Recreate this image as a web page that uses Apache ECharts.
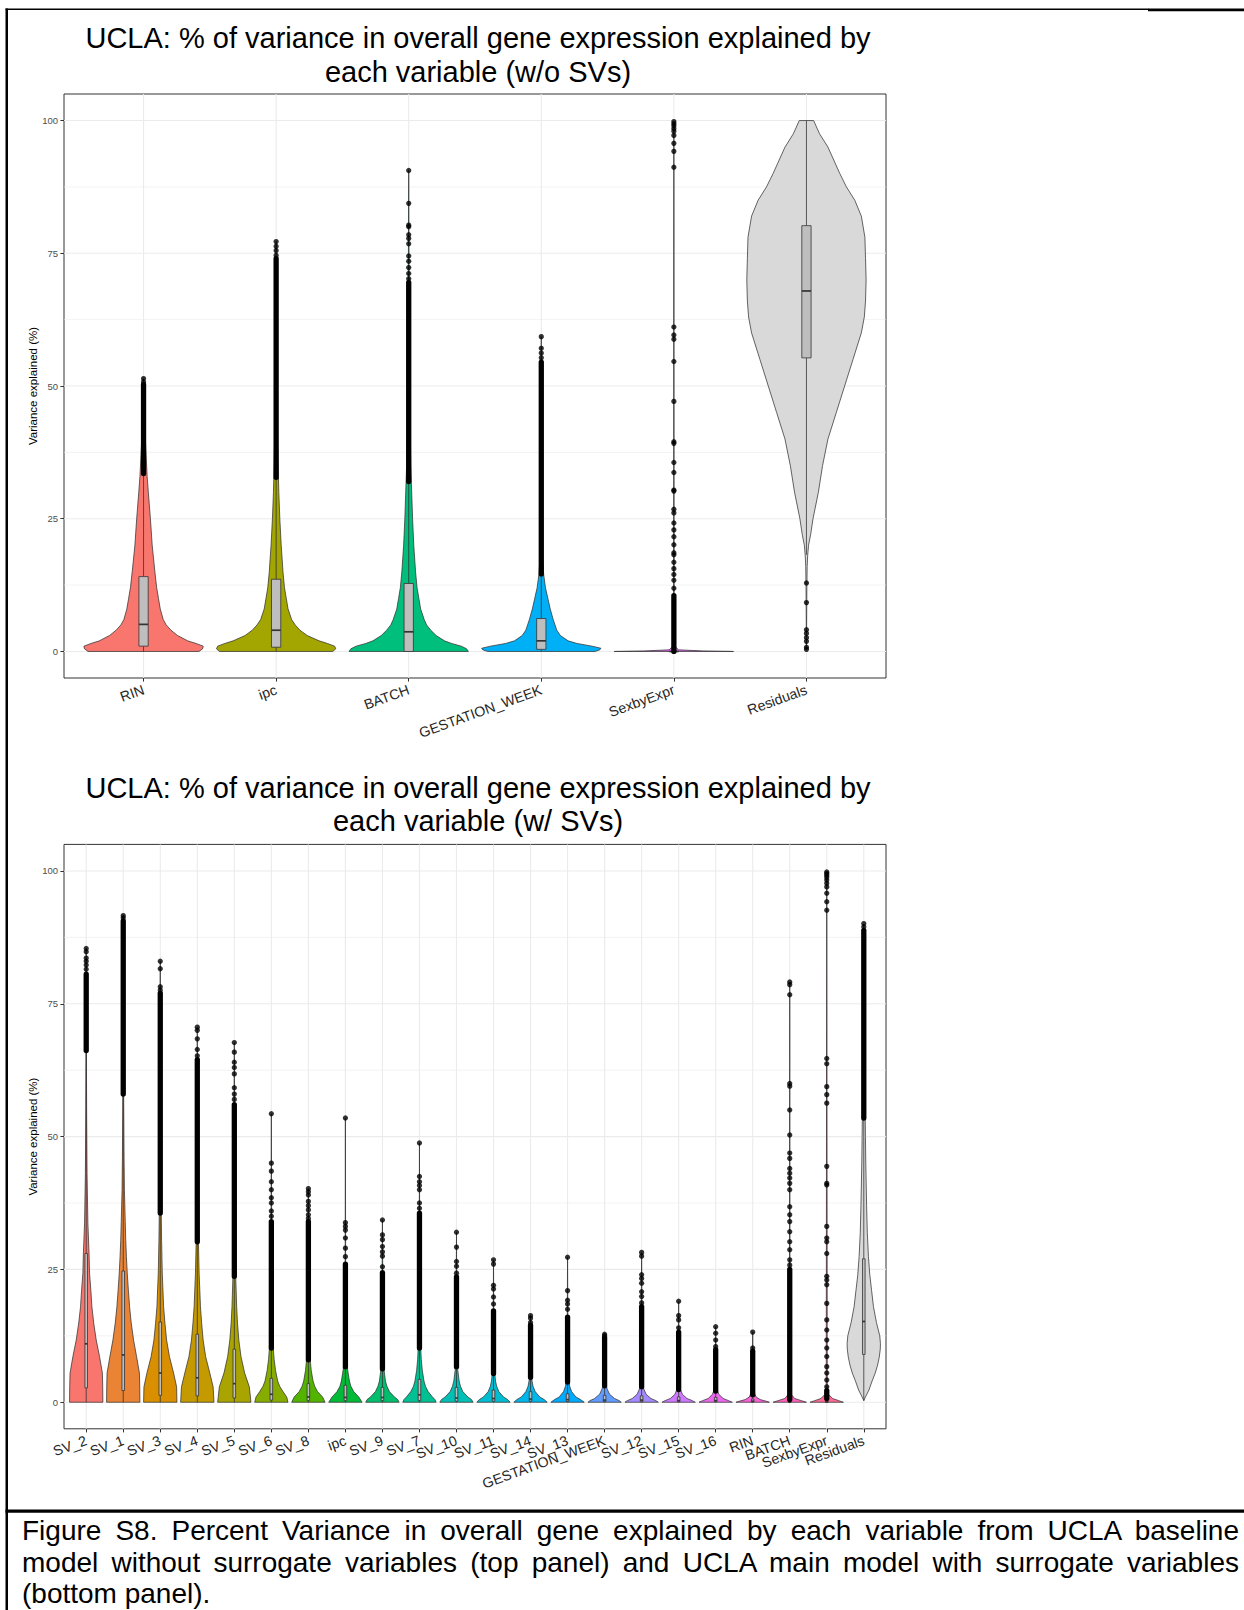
<!DOCTYPE html>
<html><head><meta charset="utf-8">
<script src="https://cdn.jsdelivr.net/npm/echarts@6/dist/echarts.min.js"></script>
<style>
html,body{margin:0;padding:0;background:#fff;}
#chart{position:absolute;left:0;top:0;width:1244px;height:1610px;}
#caption{position:absolute;left:22px;top:1515px;width:1217px;font-family:'Liberation Sans',Arial,sans-serif;font-size:28px;line-height:31.5px;color:#000;z-index:5;}
#caption .j{text-align:justify;text-align-last:justify;}
</style></head>
<body>
<div id="chart"></div>
<div id="caption">
<div class="j">Figure S8. Percent Variance in overall gene explained by each variable from UCLA baseline</div>
<div class="j">model without surrogate variables (top panel) and UCLA main model with surrogate variables</div>
<div>(bottom panel).</div>
</div>
<script>
// ---------------- DATA ----------------
const yMajorTicks = [0, 25, 50, 75, 100];
const yMinorTicks = [12.5, 37.5, 62.5, 87.5];

// top panel (w/o SVs)
const topCats = ['RIN', 'ipc', 'BATCH', 'GESTATION_WEEK', 'SexbyExpr', 'Residuals'];
// violin profiles: [value, relative half width]
const topProfiles = [
  [[0,0.93],[0.5,0.99],[1,1],[1.5,0.88],[2,0.74],[3,0.57],[4,0.46],[5,0.38],[6,0.33],[8,0.28],[10,0.25],[12,0.22],[15,0.19],[20,0.145],[25,0.115],[30,0.08],[33,0.06],[40,0.03],[45,0.015],[51.4,0]],
  [[0,0.95],[0.5,1],[1,0.98],[1.5,0.86],[2,0.72],[3,0.52],[4,0.4],[5,0.32],[6,0.26],[8,0.2],[10,0.17],[12,0.14],[15,0.115],[20,0.085],[25,0.062],[30,0.045],[33,0.038],[40,0.025],[50,0.015],[60,0.008],[77.2,0]],
  [[0,1],[0.5,0.97],[1,0.88],[1.5,0.72],[2,0.6],[3,0.46],[4,0.37],[5,0.3],[6,0.26],[8,0.2],[10,0.17],[12,0.14],[15,0.115],[20,0.085],[25,0.065],[30,0.05],[35,0.035],[45,0.02],[60,0.01],[75,0.005],[90.6,0]],
  [[0,0.9],[0.3,0.98],[0.6,1],[1,0.85],[1.5,0.6],[2,0.45],[3,0.32],[4,0.26],[5,0.23],[6,0.2],[8,0.15],[10,0.11],[12,0.07],[14.5,0.04],[18,0.02],[25,0.01],[40,0.005],[59.3,0]],
  [[0,1],[0.1,0.5],[0.3,0.08],[1,0.015],[5,0.006],[30,0.003],[99.8,0]],
  [[0.4,0],[5,0.003],[12,0.007],[16,0.012],[18,0.02],[20,0.035],[22,0.07],[25,0.11],[30,0.2],[35,0.27],[40,0.36],[45,0.5],[50,0.64],[55,0.78],[60,0.92],[63,0.97],[66,0.99],[70,1],[74,0.99],[78,0.98],[82,0.92],[85,0.81],[87.5,0.67],[90,0.56],[95,0.36],[97.5,0.22],[100,0.12]]
];
// boxes: [q1, median, q3, whiskerLow, whiskerHigh]
const topBoxes = [
  [1.0, 5.1, 14.1, 0, 33.5],
  [0.8, 4.0, 13.6, 0, 32.8],
  [0.0, 3.7, 12.8, 0, 31.8],
  [0.4, 2.0, 6.2, 0, 14.5],
  [0.0, 0.0, 0.0, 0, 0.0],
  [55.3, 67.9, 80.2, 18.2, 100]
];
// densely packed outlier stretches [from, to]
const topDense = [[33.5, 50.3], [32.8, 74.0], [32.0, 69.5], [14.6, 54.5], [0, 10.5], null];
// individual outliers
const topOutliers = [
  [50.8, 51.4],
  [74.6, 75.5, 76.3, 77.2],
  [70.2, 71.2, 72.3, 73.5, 74.5, 76.8, 77.8, 78.5, 80.0, 80.3, 84.4, 90.6],
  [55.3, 56.2, 57.1, 59.3],
  [11.9, 13.4, 14.5, 15.6, 16.8, 18.2, 18.6, 20.1, 21.6, 22.9, 24.2, 26.1, 26.8, 30.2, 30.4, 33.7, 35.6, 39.2, 39.5, 47.1, 54.6, 58.8, 59.6, 61.1, 91.2, 94.2, 95.7, 97.2, 98.0, 98.5, 99.0, 99.4, 99.8],
  [0.4, 0.8, 1.9, 2.6, 3.4, 4.1, 9.2, 12.9]
];

// bottom panel (w/ SVs)
const botCats = ['SV_2','SV_1','SV_3','SV_4','SV_5','SV_6','SV_8','ipc','SV_9','SV_7','SV_10','SV_11','SV_14','SV_13','GESTATION_WEEK','SV_12','SV_15','SV_16','RIN','BATCH','SexbyExpr','Residuals'];
const botProfiles = [
  [[0,1],[3,0.99],[5.5,0.97],[8.6,0.8],[11.7,0.6],[14.9,0.45],[18,0.34],[21,0.28],[24.3,0.2],[28,0.17],[33.7,0.1],[43,0.05],[55,0.025],[66,0.012],[75,0.006],[85.5,0]],
  [[0,1],[3,0.99],[5.5,0.97],[8.6,0.8],[11.7,0.62],[14.9,0.48],[18,0.38],[21,0.31],[24.3,0.24],[27.4,0.19],[30.5,0.15],[34,0.12],[40,0.07],[46,0.05],[58,0.025],[75,0.01],[91.6,0]],
  [[0,1],[2.9,0.98],[5.5,0.8],[8.6,0.55],[11.7,0.38],[14.9,0.28],[18,0.2],[24.3,0.12],[30.5,0.08],[35.6,0.06],[50,0.03],[83,0]],
  [[0,1],[2.9,0.95],[5.5,0.75],[8.6,0.5],[11.7,0.35],[14.9,0.26],[18,0.19],[24.3,0.11],[30,0.07],[40,0.04],[70.6,0]],
  [[0,1],[2.9,0.9],[5.5,0.62],[8.6,0.4],[11.7,0.27],[14.9,0.19],[18,0.14],[24,0.08],[30,0.05],[67.7,0]],
  [[0,1],[1,0.92],[2,0.7],[3,0.5],[4,0.38],[6,0.25],[8,0.17],[10,0.12],[15,0.06],[25,0.025],[54.3,0]],
  [[0,1],[1,0.85],[2,0.55],[3,0.38],[4,0.28],[6,0.17],[8,0.11],[12,0.05],[20,0.02],[40.2,0]],
  [[0,1],[1,0.8],[2,0.5],[3,0.33],[4,0.24],[6,0.14],[8,0.08],[12,0.035],[20,0.015],[53.5,0]],
  [[0,1],[0.5,0.92],[1,0.72],[2,0.42],[3,0.27],[4,0.18],[6,0.1],[10,0.04],[34.3,0]],
  [[0,1],[0.5,0.93],[1,0.78],[2,0.52],[3,0.36],[4,0.27],[6,0.17],[8,0.11],[12,0.05],[20,0.02],[48.8,0]],
  [[0,1],[0.5,0.9],[1,0.68],[2,0.38],[3,0.24],[4,0.16],[6,0.08],[10,0.03],[32,0]],
  [[0,1],[0.5,0.85],[1,0.6],[2,0.32],[3,0.19],[4,0.12],[6,0.06],[10,0.02],[26.8,0]],
  [[0,1],[0.5,0.82],[1,0.55],[2,0.28],[3,0.15],[4,0.09],[6,0.04],[16.3,0]],
  [[0,1],[0.5,0.78],[1,0.5],[2,0.24],[3,0.13],[4,0.07],[6,0.03],[27.3,0]],
  [[0,1],[0.3,0.88],[0.7,0.6],[1.5,0.3],[2.5,0.15],[4,0.06],[12.8,0]],
  [[0,1],[0.3,0.86],[0.7,0.56],[1.5,0.27],[2.5,0.13],[4,0.05],[28.2,0]],
  [[0,1],[0.3,0.82],[0.7,0.5],[1.5,0.22],[2.5,0.1],[4,0.04],[19,0]],
  [[0,1],[0.3,0.78],[0.7,0.45],[1.5,0.19],[2.5,0.08],[4,0.03],[14.2,0]],
  [[0,1],[0.2,0.8],[0.5,0.45],[1,0.2],[2,0.07],[4,0.02],[13.2,0]],
  [[0,1],[0.3,0.7],[0.7,0.3],[1.5,0.08],[3,0.02],[79.1,0]],
  [[0,1],[0.3,0.72],[0.7,0.35],[1.5,0.1],[3,0.03],[99.8,0]],
  [[0.3,0],[1,0.1],[2.3,0.31],[4,0.5],[5.5,0.69],[7,0.83],[8.5,0.93],[10,0.99],[11,1],[12.5,0.96],[15,0.76],[18,0.58],[21,0.47],[24,0.36],[27.4,0.28],[32,0.21],[37,0.17],[45,0.12],[50,0.1],[55,0.08],[60,0.065],[70,0.045],[80,0.025],[88,0.01],[90,0]]
];
const botBoxes = [
  [2.7, 11.0, 28.0, 0, 66.0],
  [2.2, 8.9, 24.7, 0, 58.0],
  [1.3, 5.5, 15.1, 0, 35.5],
  [1.2, 4.6, 12.8, 0, 30.2],
  [0.8, 3.5, 10.0, 0, 23.7],
  [0.4, 1.5, 4.5, 0, 10.2],
  [0.3, 1.0, 3.5, 0, 8.0],
  [0.3, 0.9, 3.2, 0, 6.7],
  [0.3, 0.9, 2.8, 0, 6.3],
  [0.3, 1.4, 4.3, 0, 10.2],
  [0.2, 0.8, 2.8, 0, 6.7],
  [0.2, 0.7, 2.3, 0, 5.4],
  [0.2, 0.6, 2.0, 0, 4.7],
  [0.15, 0.5, 1.6, 0, 3.8],
  [0.1, 0.4, 1.3, 0, 3.1],
  [0.1, 0.4, 1.2, 0, 2.9],
  [0.1, 0.3, 1.0, 0, 2.4],
  [0.1, 0.3, 0.9, 0, 2.1],
  [0.05, 0.2, 0.6, 0, 1.4],
  [0.0, 0.05, 0.2, 0, 0.5],
  [0.0, 0.05, 0.3, 0, 0.7],
  [9.0, 15.2, 27.0, 0.3, 53.5]
];
const botDense = [
  [66.2, 80.6], [58.0, 90.6], [35.6, 77.0], [30.2, 64.5], [23.7, 56.0], [10.2, 34.0], [8.0, 34.0], [6.7, 26.0],
  [6.3, 24.4], [10.2, 35.6], [6.7, 23.6], [5.4, 17.2], [4.7, 14.5], [3.8, 16.0], [3.1, 12.2], [2.9, 18.0],
  [2.4, 13.2], [2.1, 9.9], [1.4, 9.6], [0.5, 25.0], [0.7, 2.2], [53.5, 88.8]
];
const botOutliers = [
  [81.5, 82.3, 83.0, 83.6, 84.8, 85.4],
  [91.2, 91.6],
  [77.6, 78.2, 81.6, 83.0],
  [65.2, 66.4, 68.4, 70.0, 70.6],
  [57.0, 58.0, 59.2, 61.8, 63.0, 64.0, 65.9, 67.7],
  [35.0, 36.0, 37.5, 38.5, 40.0, 41.5, 43.5, 45.0, 54.3],
  [34.6, 35.3, 36.2, 37.0, 37.8, 39.0, 39.6, 40.2],
  [27.4, 29.0, 30.9, 32.4, 33.1, 33.8, 53.5],
  [25.5, 27.5, 28.3, 29.3, 30.6, 31.5, 34.3],
  [36.5, 37.5, 40.0, 40.8, 41.5, 42.5, 48.8],
  [24.3, 25.6, 26.5, 29.2, 32.0],
  [18.5, 19.8, 21.3, 22.0, 26.0, 26.8],
  [15.0, 15.8, 16.3],
  [17.5, 18.5, 19.2, 21.0, 27.3],
  [12.5, 12.8],
  [18.7, 19.9, 20.8, 22.4, 23.3, 24.0, 27.5, 28.2],
  [14.0, 15.5, 16.3, 19.0],
  [10.5, 11.7, 13.0, 14.2],
  [10.2, 13.2],
  [25.8, 26.8, 28.7, 30.2, 32.1, 34.0, 35.3, 36.8, 40.0, 41.2, 42.2, 43.1, 44.0, 45.9, 46.9, 50.3, 55.0, 59.5, 60.0, 76.7, 78.6, 79.1],
  [2.9, 4.2, 5.5, 6.7, 8.6, 10.2, 11.7, 13.6, 15.5, 18.6, 22.1, 23.0, 23.7, 28.0, 30.2, 30.9, 33.1, 40.9, 41.2, 44.4, 56.3, 57.9, 59.4, 63.7, 64.7, 92.6, 94.2, 95.8, 97.0, 97.7, 98.3, 98.8, 99.2, 99.5, 99.8],
  [89.5, 90.1]
];

// ---------------- STYLE HELPERS ----------------
function hclHex(h, c, l) {
  const hr = h * Math.PI / 180;
  const U = c * Math.cos(hr), V = c * Math.sin(hr);
  const Xn = 95.047, Yn = 100.0, Zn = 108.883;
  const den = Xn + 15 * Yn + 3 * Zn;
  const un = 4 * Xn / den, vn = 9 * Yn / den;
  const Y = l > 8 ? Yn * Math.pow((l + 16) / 116, 3) : Yn * l / 903.3;
  const u = U / (13 * l) + un, v = V / (13 * l) + vn;
  const X = 9 * Y * u / (4 * v);
  const Z = Y * (12 - 3 * u - 20 * v) / (4 * v);
  const lin = [
    (3.240479 * X - 1.537150 * Y - 0.498535 * Z) / 100,
    (-0.969256 * X + 1.875992 * Y + 0.041556 * Z) / 100,
    (0.055648 * X - 0.204043 * Y + 1.057311 * Z) / 100
  ];
  return '#' + lin.map(t => {
    let g = t > 0.00304 ? 1.055 * Math.pow(t, 1 / 2.4) - 0.055 : 12.92 * t;
    g = Math.max(0, Math.min(1, g));
    return Math.round(g * 255).toString(16).padStart(2, '0');
  }).join('');
}
function hues(n) { const a = []; for (let k = 0; k < n; k++) a.push(hclHex(15 + 360 * k / n, 100, 65)); return a; }
const topColors = hues(topCats.length - 1).concat(['#D9D9D9']);
const botColors = hues(botCats.length - 1).concat(['#D9D9D9']);

const FONT = '"Liberation Sans", Arial, Helvetica, sans-serif';
const HALF = 0.45, BOXW = 0.07, PT = 5.3;
const PLOT_L = 64, PLOT_W = 822;
const TOP_T = 94, TOP_H = 584, BOT_T = 844.4, BOT_H = 584.4;

function violinRender(profiles, boxes, colors) {
  return function (params, api) {
    const i = params.dataIndex;
    const prof = profiles[i];
    const pts = [];
    for (let k = 0; k < prof.length; k++) pts.push(api.coord([i + prof[k][1] * HALF, prof[k][0]]));
    for (let k = prof.length - 1; k >= 0; k--) pts.push(api.coord([i - prof[k][1] * HALF, prof[k][0]]));
    const b = boxes[i];
    const tl = api.coord([i - BOXW / 2, b[2]]), br = api.coord([i + BOXW / 2, b[0]]);
    const ml = api.coord([i - BOXW / 2, b[1]]), mr = api.coord([i + BOXW / 2, b[1]]);
    const wq3 = api.coord([i, b[2]]), whi = api.coord([i, b[4]]);
    const wq1 = api.coord([i, b[0]]), wlo = api.coord([i, b[3]]);
    const grey = '#333333';
    return {
      type: 'group',
      children: [
        { type: 'polygon', shape: { points: pts }, style: { fill: colors[i], stroke: grey, lineWidth: 0.75 } },
        { type: 'line', shape: { x1: wq3[0], y1: wq3[1], x2: whi[0], y2: whi[1] }, style: { stroke: grey, lineWidth: 0.8 } },
        { type: 'line', shape: { x1: wq1[0], y1: wq1[1], x2: wlo[0], y2: wlo[1] }, style: { stroke: grey, lineWidth: 0.8 } },
        { type: 'rect', shape: { x: tl[0], y: tl[1], width: br[0] - tl[0], height: Math.max(br[1] - tl[1], 0.01) }, style: { fill: '#BEBEBE', stroke: grey, lineWidth: 0.8 } },
        { type: 'line', shape: { x1: ml[0], y1: ml[1], x2: mr[0], y2: mr[1] }, style: { stroke: grey, lineWidth: 1.7 } }
      ]
    };
  };
}
function denseRender(params, api) {
  const a = api.coord([api.value(0), api.value(1)]);
  const b = api.coord([api.value(0), api.value(2)]);
  return { type: 'line', shape: { x1: a[0], y1: a[1], x2: b[0], y2: b[1] }, style: { stroke: '#000', lineWidth: PT, lineCap: 'round' } };
}
function gridRender(n) {
  return function (params, api) {
    const kind = api.value(0), v = api.value(1);
    let a, b;
    if (kind === 2) { a = api.coord([v, -5]); b = api.coord([v, 105]); }
    else { a = api.coord([-0.6, v]); b = api.coord([n - 0.4, v]); }
    return { type: 'line', shape: { x1: a[0], y1: a[1], x2: b[0], y2: b[1] }, style: { stroke: '#EBEBEB', lineWidth: kind === 1 ? 0.6 : 1.1 } };
  };
}

function panelSeries(gi, cats, profiles, boxes, colors, dense, outliers) {
  const n = cats.length;
  const gridData = yMajorTicks.map(v => [0, v]).concat(yMinorTicks.map(v => [1, v])).concat(cats.map((c, i) => [2, i]));
  const denseData = [];
  dense.forEach((d, i) => { if (d) denseData.push([i, d[0], d[1]]); });
  const ptData = [];
  outliers.forEach((arr, i) => arr.forEach(v => ptData.push([i, v])));
  return [
    { type: 'custom', xAxisIndex: gi, yAxisIndex: gi, z: 1, silent: true, renderItem: gridRender(n), data: gridData, encode: { x: -1, y: -1 } },
    { type: 'custom', xAxisIndex: gi, yAxisIndex: gi, z: 2, silent: true, renderItem: violinRender(profiles, boxes, colors), data: cats.map((c, i) => [i, 0]), encode: { x: 0, y: 1 } },
    { type: 'custom', xAxisIndex: gi, yAxisIndex: gi, z: 3, silent: true, renderItem: denseRender, data: denseData, encode: { x: 0, y: [1, 2] } },
    { type: 'scatter', xAxisIndex: gi, yAxisIndex: gi, z: 4, silent: true, symbol: 'circle', symbolSize: PT, itemStyle: { color: '#000' }, data: ptData }
  ];
}

// main (data) x axis: value scale -0.6 .. n-0.4 (ggplot discrete expansion)
function xValueAxis(gi, cats) {
  return {
    type: 'value', gridIndex: gi, min: -0.6, max: cats.length - 0.4,
    axisLine: { show: false, onZero: false }, axisTick: { show: false }, axisLabel: { show: false }, splitLine: { show: false }
  };
}
// label x axis: category axis on a grid trimmed by 0.1 unit at each side so that categories line up
function xCatAxis(gi, cats, fs) {
  return {
    type: 'category', gridIndex: gi, data: cats, boundaryGap: true,
    axisLine: { show: false, onZero: false },
    axisTick: { show: true, alignWithLabel: true, interval: 0, length: 3.6, lineStyle: { color: '#333333', width: 1 } },
    axisLabel: { interval: 0, rotate: 20, margin: 11, fontSize: fs, color: '#262626', fontFamily: FONT },
    splitLine: { show: false }
  };
}
function yAxisFor(gi) {
  return {
    type: 'value', gridIndex: gi, min: -5, max: 105,
    axisLine: { show: false, onZero: false },
    axisTick: { show: true, customValues: yMajorTicks, length: 3.6, lineStyle: { color: '#333333', width: 1 } },
    axisLabel: { customValues: yMajorTicks, fontSize: 9.5, color: '#4D4D4D', margin: 6, fontFamily: FONT, showMinLabel: true, showMaxLabel: true },
    splitLine: { show: false },
    name: 'Variance explained (%)', nameLocation: 'middle', nameGap: 25, nameMoveOverlap: false,
    nameTextStyle: { fontSize: 11.5, color: '#000', fontFamily: FONT }
  };
}
function hiddenY(gi) { return { type: 'value', gridIndex: gi, min: 0, max: 1, show: false }; }
function labelGrid(top, height, n) {
  const u = PLOT_W / (n + 0.2);
  return { left: PLOT_L + 0.1 * u, top: top, width: n * u, height: height, show: false, containLabel: false };
}

function titleText(x, y, t) {
  return { type: 'text', x: x, y: y, z: 10, style: { text: t, font: '29px ' + FONT, fill: '#000', align: 'center', verticalAlign: 'middle' } };
}

const chart = echarts.init(document.getElementById('chart'), null, { renderer: 'svg' });
chart.setOption({
  animation: false,
  backgroundColor: '#fff',
  grid: [
    { left: PLOT_L, top: TOP_T, width: PLOT_W, height: TOP_H, show: true, borderColor: '#333333', borderWidth: 1, backgroundColor: 'transparent', containLabel: false },
    { left: PLOT_L, top: BOT_T, width: PLOT_W, height: BOT_H, show: true, borderColor: '#333333', borderWidth: 1, backgroundColor: 'transparent', containLabel: false },
    labelGrid(TOP_T, TOP_H, topCats.length),
    labelGrid(BOT_T, BOT_H, botCats.length)
  ],
  xAxis: [xValueAxis(0, topCats), xValueAxis(1, botCats), xCatAxis(2, topCats, 14.2), xCatAxis(3, botCats, 14.2)],
  yAxis: [yAxisFor(0), yAxisFor(1), hiddenY(2), hiddenY(3)],
  series: [].concat(
    panelSeries(0, topCats, topProfiles, topBoxes, topColors, topDense, topOutliers),
    panelSeries(1, botCats, botProfiles, botBoxes, botColors, botDense, botOutliers)
  ),
  graphic: [
    { type: 'rect', shape: { x: 5.5, y: 8.5, width: 1143, height: 1.4 }, style: { fill: '#000' } },
    { type: 'rect', shape: { x: 1148, y: 8.5, width: 96, height: 2.8 }, style: { fill: '#000' } },
    { type: 'rect', shape: { x: 5.5, y: 8.5, width: 2.5, height: 1602 }, style: { fill: '#000' } },
    { type: 'rect', shape: { x: 5.5, y: 1509.5, width: 1239, height: 3.2 }, style: { fill: '#000' } },
    titleText(478, 38, 'UCLA: % of variance in overall gene expression explained by'),
    titleText(478, 71.5, 'each variable (w/o SVs)'),
    titleText(478, 787.5, 'UCLA: % of variance in overall gene expression explained by'),
    titleText(478, 821, 'each variable (w/ SVs)')
  ]
});
</script>
</body></html>
